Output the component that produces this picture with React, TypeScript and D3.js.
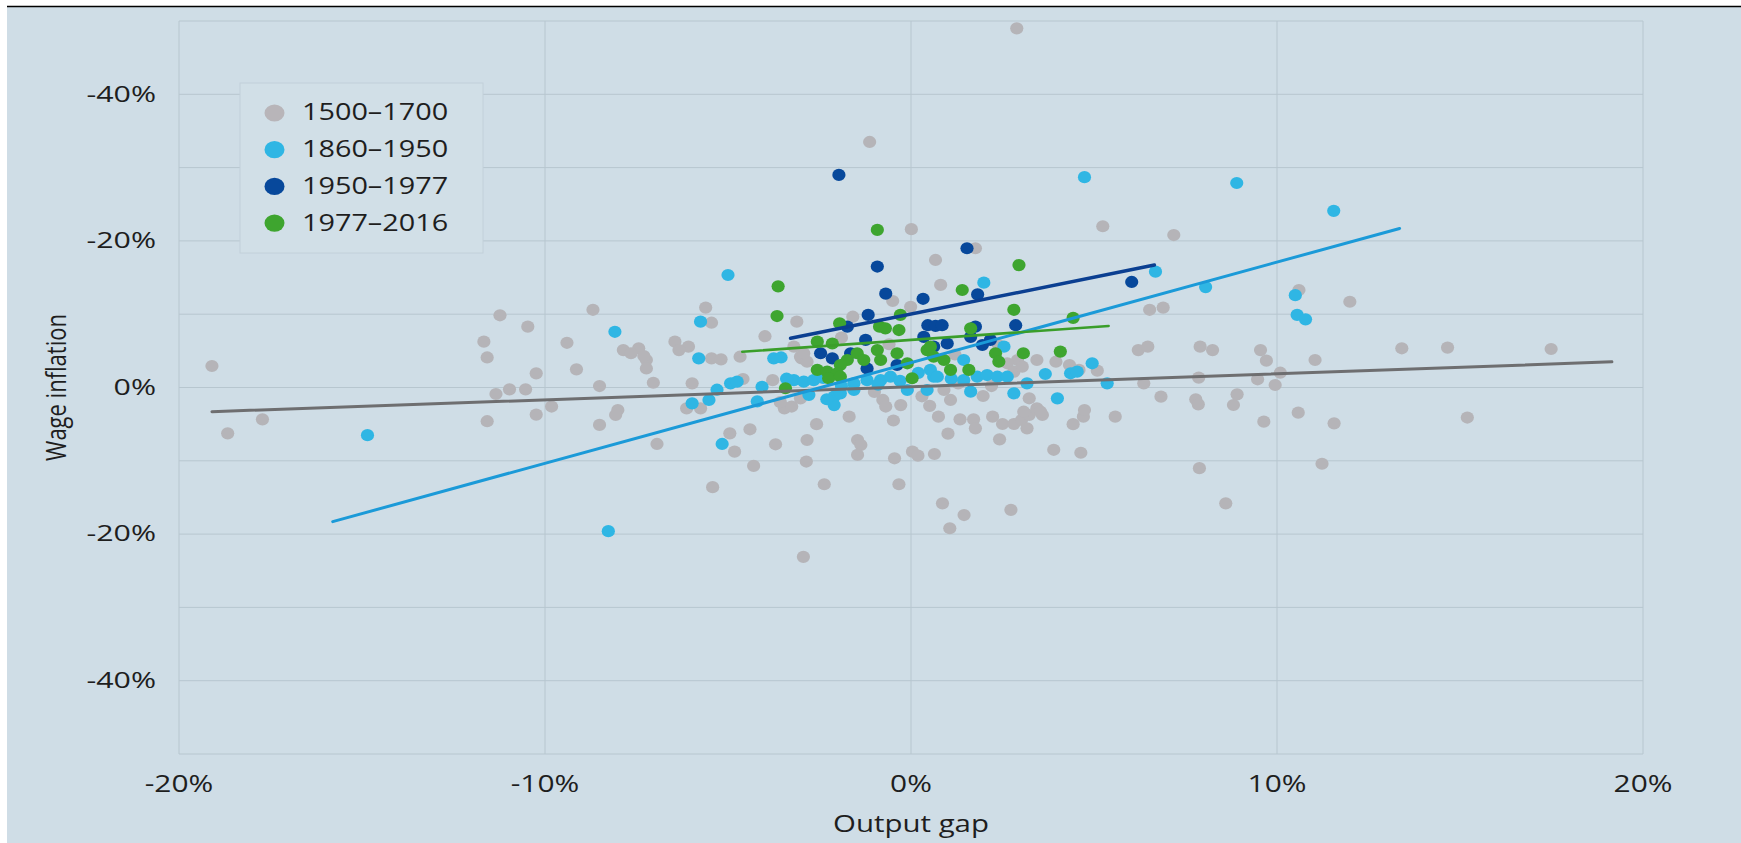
import React from "react";
import * as d3 from "d3";

// ---- Data (output gap %, wage inflation %) ----
const series1500: [number, number][] = [
  [-19.1,2.93],[-18.67,-6.25],[-17.72,-4.34],[-11.23,9.85],[-10.47,8.3],[-11.67,6.25],[-11.58,4.1],[-9.4,6.1],[-9.14,2.48],[-10.24,1.93],
  [-11.34,-0.89],[-10.97,-0.25],[-10.53,-0.25],[-9.82,-2.6],[-10.24,-3.7],[-11.58,-4.6],[-8.69,10.6],[-8.51,0.2],[-8.51,-5.1],
  [-5.61,10.9],[-5.45,8.84],[-3.99,7.0],[-3.12,8.98],[-7.86,5.1],[-7.44,5.35],[-7.65,4.67],[-7.23,3.75],[-7.23,2.6],[-6.45,6.25],
  [-6.08,5.57],[-6.34,5.1],[-5.45,3.98],[-5.19,3.84],[-4.67,4.2],[-7.04,0.65],[-5.98,0.57],[-4.59,1.16],[-2.99,3.98],[-3.78,1.0],
  [-8.01,-3.07],[-8.07,-3.75],[-6.13,-2.84],[-3.46,-2.84],[-6.94,-7.7],[-4.95,-6.25],[-4.4,-5.7],[-4.82,-8.75],[-4.3,-10.7],[-3.7,-7.75],
  [-5.42,-13.6],[-2.84,-7.16],[-2.58,-5.0],[-2.86,-10.1],[-2.37,-13.2],[-1.69,-3.98],[-1.46,-7.16],[-1.37,-7.84],[-1.46,-9.2],[-0.77,-1.7],
  [-0.69,-2.6],[-0.28,-2.4],[-0.48,-4.5],[-0.45,-9.66],[-0.33,-13.2],[0.04,-8.75],[0.19,-9.3],[0.64,-9.07],[-2.94,-23.1],[0.86,-15.8],
  [1.45,-17.4],[1.06,-19.2],[2.73,-16.7],[0.51,-2.5],[0.75,-3.98],[1.01,-6.3],[1.34,-4.34],[1.71,-4.34],[1.76,-5.57],[2.23,-3.98],
  [2.5,-4.98],[2.81,-4.98],[3.02,-4.43],[3.23,-3.75],[3.44,-2.84],[3.59,-3.75],[3.17,-5.57],[2.42,-7.07],[3.9,-8.5],[4.64,-8.9],
  [4.43,-5.0],[4.71,-3.98],[4.74,-3.07],[5.58,-3.98],[1.97,-1.16],[3.23,-1.47],[3.44,3.75],[3.96,3.52],[4.33,3.07],[4.59,2.4],
  [5.09,2.3],[6.36,0.57],[6.83,-1.25],[6.21,5.1],[6.47,5.57],[6.52,10.6],[6.89,10.9],[7.78,-1.6],[7.85,-2.3],[7.9,5.57],[7.88,-11.0],
  [1.29,0.57],[-3.26,-2.6],[2.39,5.8],[2.91,3.75],[8.24,5.1],[9.55,5.1],[9.71,3.66],[11.04,3.75],[9.47,1.12],[9.95,0.34],
  [10.09,2.02],[8.91,-0.93],[8.81,-2.39],[9.64,-4.66],[10.58,-3.43],[11.56,-4.89],[13.41,5.35],[14.66,5.44],[17.49,5.25],[15.2,-4.1],
  [11.23,-10.4],[8.6,-15.8],[11.99,11.7],[10.6,13.3],[7.86,1.34],[5.24,22.0],[7.18,20.8],[1.76,19.0],[0.67,17.4],[0.81,14.0],
  [1.08,-1.7],[0.9,-0.34],[2.63,3.3],[2.81,2.16],[3.04,2.84],[3.08,-3.3],[3.54,-3.3],[0.01,21.6],[-0.5,11.8],[-0.01,11.0],
  [-1.59,9.66],[-7.3,4.3],[-3.02,4.2],[-2.84,3.52],[-5.75,-2.84],[-3.57,-2.0],[-3.02,-1.48],[-3.2,5.57],[-2.93,4.67],
  [2.89,49.0],[-1.13,33.5],[-1.9,6.8],[-0.6,5.9],[1.2,4.5],[-1.0,-0.6],[0.3,-1.2],[2.2,0.2]
];

const series1860: [number, number][] = [
  [-14.85,-6.5],[-8.27,-19.6],[-8.09,7.6],[-5.0,15.35],[-5.75,8.98],[-5.8,3.98],[-3.75,3.98],[-3.55,4.1],[-5.98,-2.16],[-5.52,-1.7],
  [-5.3,-0.3],[-4.93,0.57],[-4.75,0.8],[-5.16,-7.7],[-4.07,0.1],[-4.2,-1.9],[-3.2,1.0],[-2.93,0.8],[-2.66,1.0],[-2.79,-1.0],
  [-2.1,-1.25],[-1.93,-0.8],[-2.1,-2.4],[-1.56,0.57],[-1.2,1.0],[-0.83,1.0],[-0.56,1.47],[-1.56,-0.34],[-0.1,-0.34],[0.44,-0.34],
  [0.62,1.47],[0.53,2.4],[1.99,14.3],[0.72,1.47],[1.44,1.0],[1.81,1.47],[2.08,1.7],[2.36,1.47],[2.63,1.47],[1.63,-0.57],
  [2.81,-0.8],[1.44,3.75],[2.54,5.57],[3.17,0.57],[3.67,1.84],[4.0,-1.48],[4.36,1.94],[4.54,2.16],[4.95,3.3],[5.36,0.57],
  [6.68,15.8],[8.05,13.7],[11.55,24.1],[10.5,12.6],[10.55,9.9],[10.78,9.3],[4.74,28.7],[8.9,27.9],
  [-3.4,1.2],[-2.4,1.3],[-1.9,0.2],[-2.3,-1.6],[-0.3,0.9],[0.2,2.0],[1.1,1.2],[-0.9,0.4]
];

const series1950: [number, number][] = [
  [-1.97,29.0],[1.53,19.0],[-0.92,16.5],[6.03,14.4],[-0.69,12.8],[0.33,12.1],[1.82,12.7],[-1.17,9.9],[-1.74,8.3],[-1.24,6.5],
  [0.46,8.5],[0.67,8.4],[0.35,6.9],[-2.47,4.67],[-2.15,3.98],[-1.65,4.67],[-1.2,2.6],[-0.38,3.07],[0.62,5.57],[0.85,8.5],
  [1.76,8.3],[2.86,8.5],[0.99,6.0],[1.95,5.8],[2.17,6.5],[1.63,6.9]
];

const series1977: [number, number][] = [
  [-0.92,21.5],[-3.63,13.8],[2.95,16.7],[1.4,13.3],[-3.66,9.75],[-1.95,8.76],[-0.86,8.3],[-0.7,8.07],[-0.29,9.9],[-0.33,7.84],
  [-2.56,6.25],[-2.15,6.0],[-1.47,4.67],[-1.74,3.75],[-1.93,3.07],[-2.56,2.4],[-2.29,2.16],[-2.02,1.94],[-2.25,1.26],[-1.93,1.47],
  [-0.92,5.1],[-0.83,3.75],[-0.38,4.67],[-0.1,3.3],[0.03,1.26],[-3.43,-0.1],[0.44,5.1],[0.62,4.2],[-1.29,3.75],[2.81,10.6],
  [4.43,9.5],[1.63,8.07],[0.53,5.57],[0.9,3.75],[1.08,2.4],[2.31,4.67],[2.4,3.52],[1.58,2.4],[3.07,4.67],[4.08,4.9]
];

// Fitted lines: [x, y] endpoints
const trend1500: [number, number][] = [[-19.1, -3.3], [19.15, 3.5]];
const trend1860: [number, number][] = [[-15.8, -18.3], [13.35, 21.7]];
const trend1950: [number, number][] = [[-3.29, 6.71], [6.65, 16.7]];
const trend1977: [number, number][] = [[-4.61, 4.88], [5.4, 8.39]];

const legendLabels = ["1500\u20131700", "1860\u20131950", "1950\u20131977", "1977\u20132016"];
const xTickValues = [-20, -10, 0, 10, 20];
const xTickLabels = ["-20%", "-10%", "0%", "10%", "20%"];
const yTickValues = [40, 20, 0, -20, -40];
const yTickLabels = ["-40%", "-20%", "0%", "-20%", "-40%"];
const yGridValues = [-50, -40, -30, -20, -10, 0, 10, 20, 30, 40, 50];
const xGridValues = [-20, -10, 0, 10, 20];

export default function App() {
  const W = 1741, H = 843;
  const x = d3.scaleLinear().domain([-20, 20]).range([179, 1643]);
  const y = d3.scaleLinear().domain([-50, 50]).range([754, 21]);
  const line = d3.line<[number, number]>().x(d => x(d[0])).y(d => y(d[1]));

  const bg = "#cfdde6";
  const grid = "#b7c6cf";
  const font = "'Open Sans', 'Noto Sans', sans-serif";
  const textCol = "#1e1e1e";

  const pointSets = [
    { data: series1500, color: "#b5b4b8" },
    { data: series1860, color: "#2fb6e4" },
    { data: series1950, color: "#07489b" },
    { data: series1977, color: "#3ea52f" },
  ];
  const lines = [
    { data: trend1500, color: "#6e6e70", w: 3 },
    { data: trend1860, color: "#1b9ad8", w: 3 },
    { data: trend1950, color: "#0b3f91", w: 3.5 },
    { data: trend1977, color: "#3a9e2a", w: 2.6 },
  ];
  const legendColors = ["#b8b5b9", "#2fb6e4", "#07489b", "#3ea52f"];

  return (
    <svg width={W} height={H} style={{ position: "absolute", left: 0, top: 0, background: "#fff" }}>
      <rect x={7} y={7} width={W - 7} height={H - 7} fill={bg} />
      <line x1={7} x2={W} y1={6.5} y2={6.5} stroke="#000" strokeWidth={1.6} />

      {/* grid */}
      {yGridValues.map(v => (
        <line key={"gy" + v} x1={x(-20)} x2={x(20)} y1={y(v)} y2={y(v)} stroke={grid} strokeWidth={1} />
      ))}
      {xGridValues.map(v => (
        <line key={"gx" + v} x1={x(v)} x2={x(v)} y1={y(50)} y2={y(-50)} stroke={grid} strokeWidth={1} />
      ))}

      {/* points */}
      {pointSets.map((s, si) => (
        <g key={"s" + si}>
          {s.data.map((d, i) => (
            <ellipse key={i} cx={x(d[0])} cy={y(d[1])} rx={6.6} ry={6.1} fill={s.color} />
          ))}
        </g>
      ))}

      {/* trend lines */}
      {lines.map((l, i) => (
        <path key={"l" + i} d={line(l.data) || ""} fill="none" stroke={l.color} strokeWidth={l.w} strokeLinecap="round" />
      ))}

      {/* y ticks */}
      {yTickValues.map((v, i) => (
        <text key={"yt" + i} transform={`translate(156,${y(v) + 1.5}) scale(1.38,1)`} textAnchor="end"
          dominantBaseline="middle" fontFamily={font} fontSize={22} fill={textCol}>
          {yTickLabels[i]}
        </text>
      ))}
      {/* x ticks */}
      {xTickValues.map((v, i) => (
        <text key={"xt" + i} transform={`translate(${x(v)},792) scale(1.3,1)`} textAnchor="middle"
          fontFamily={font} fontSize={23} fill={textCol}>
          {xTickLabels[i]}
        </text>
      ))}

      {/* axis titles */}
      <text transform={`translate(${x(0)},832) scale(1.28,1)`} textAnchor="middle" fontFamily={font} fontSize={23} fill={textCol}>
        Output gap
      </text>
      <text transform={`translate(66,${y(0)}) scale(1.28,1) rotate(-90)`} textAnchor="middle" fontFamily={font} fontSize={22} fill={textCol}>
        Wage inflation
      </text>

      {/* legend */}
      <rect x={240} y={83} width={243} height={170} fill="#d1dfe7" stroke="#c2d0d9" strokeWidth={1} />
      {legendLabels.map((lab, i) => (
        <g key={"lg" + i} transform={`translate(0,${113 + i * 36.7})`}>
          <ellipse cx={274.5} cy={0} rx={10} ry={8.6} fill={legendColors[i]} />
          <text transform="translate(302,1) scale(1.2,1)" dominantBaseline="middle" fontFamily={font} fontSize={24} fill={textCol}>
            {lab}
          </text>
        </g>
      ))}
    </svg>
  );
}
